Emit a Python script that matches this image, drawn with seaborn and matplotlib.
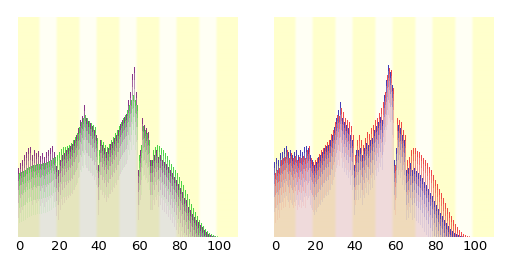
import numpy as np
import pandas as pd
import matplotlib
matplotlib.use("Agg")
import matplotlib.pyplot as plt
import seaborn as sns

# ---- data (relative population per single-year age) ----
ages = list(range(0, 101))
local_tops = [168,163,160,155,152,148,147,155,150,153,151,156,153,157,152,150,148,146,152,166,
              170,160,155,153,150,148,146,144,140,135,128,120,116,105,118,121,123,126,130,135,
              165,140,145,148,152,148,144,142,138,135,130,124,120,117,114,100,92,74,67,92,
              170,150,118,125,128,132,160,160,155,150,157,155,160,162,164,167,170,173,177,180,
              184,188,192,198,200,207,210,214,217,220,222,225,227,230,232,234,235,236,236.5,237,237]
national_tops = [173,172,171,170,168,167,166,165,165,164,164,164,163,163,162,161,160,158,157,155,
                 152,149,147,147,146,145,143,140,137,133,127,122,118,115,118,121,123,125,127,138,
                 150,140,142,145,147,144,140,137,133,130,126,122,118,115,110,105,100,95,100,105,
                 155,145,126,130,133,140,160,150,147,145,146,148,150,153,156,160,164,167,170,173,
                 177,181,185,190,194,199,204,208,212,216,220,223,226,229,231,233,234,235,236,236.5,237]
male_tops = [162,158,160,153,152,148,146,152,150,155,152,150,155,150,152,147,146,148,155,160,
             165,162,157,155,152,148,146,145,140,135,127,118,110,102,118,122,125,128,135,140,
             165,150,150,148,155,148,143,145,140,138,130,126,122,117,120,95,80,65,72,85,
             160,148,125,128,135,140,170,168,163,170,168,171,173,175,178,182,185,189,193,196,
             201,205,209,213,216,220,223,226,229,231,233,234,235,236,236.5,237,237,237,237,237,237]
female_tops = [173,170,168,160,158,157,150,158,153,158,156,160,157,158,156,158,150,146,158,162,
               160,158,154,150,148,145,142,140,134,130,122,115,116,108,112,118,120,122,126,135,
               155,140,135,140,145,138,132,134,128,125,120,118,113,108,102,92,75,68,70,88,
               165,118,120,122,130,135,160,157,150,148,148,151,152,155,158,160,163,167,170,175,
               180,184,189,193,198,203,208,212,216,220,224,227,230,232,234,235,236,236.5,237,237,237]

BASE = 237
local = [BASE - v for v in local_tops]
national = [BASE - v for v in national_tops]
male = [BASE - v for v in male_tops]
female = [BASE - v for v in female_tops]
tick_vals = [0, 20, 40, 60, 80, 100]

W, H = 512, 256
fig = plt.figure(figsize=(W / 100, H / 100), dpi=100)
sns.set_style("white")


def background(ax):
    xs = np.linspace(-0.5, 109.5, 1100)
    yellow = np.array([1.0, 1.0, 0.80])
    white = np.array([1.0, 1.0, 0.96])
    img = np.zeros((1, len(xs), 3))
    for i, x in enumerate(xs):
        d = int(np.floor((x + 0.5) / 10))
        frac = (x + 0.5) / 10 - d
        if d % 2 == 0:
            img[0, i] = yellow
        else:
            t = 1 - abs(frac - 0.5) * 2
            t = min(1, t * 3.5)
            img[0, i] = yellow + (white - yellow) * t
    ax.imshow(img, extent=[-0.5, 109.5, 0, 220], aspect="auto", zorder=0,
              interpolation="bilinear")


def panel(ax, s1, s2, n1, n2, c1, c2, fill, falpha):
    background(ax)
    df = pd.DataFrame({
        "age": ages * 2,
        "value": list(s1) + list(s2),
        "series": [n1] * len(ages) + [n2] * len(ages),
    })
    sns.barplot(data=df, x="age", y="value", hue="series", native_scale=True,
                dodge=True, width=1.0, palette={n1: fill, n2: fill},
                alpha=falpha, linewidth=0, errorbar=None, legend=False, ax=ax,
                zorder=2, snap=False)
    # gradient caps
    for vals, col, off in ((s1, c1, -0.25), (s2, c2, 0.25)):
        v = np.array(vals, dtype=float)
        x = np.array(ages) + off
        for depth, a in ((50, 0.08), (35, 0.14), (22, 0.22), (13, 0.3), (6, 0.45)):
            d = np.minimum(depth, v)
            ax.bar(x, d, bottom=v - d, width=0.5, color=col, alpha=a,
                   linewidth=0, zorder=3, snap=False)
    ax.set_xlim(-0.5, 109.5)
    ax.set_ylim(0, 220)
    ax.set_xticks(tick_vals)
    ax.set_xticklabels([str(t) for t in tick_vals], fontsize=9.5)
    ax.tick_params(axis="x", length=0, pad=2, colors="black")
    ax.set_yticks([])
    ax.set_xlabel("")
    ax.set_ylabel("")
    for sp in ax.spines.values():
        sp.set_visible(False)


ax1 = fig.add_axes([18 / W, (H - 237) / H, 220 / W, 220 / H])
ax2 = fig.add_axes([274 / W, (H - 237) / H, 220 / W, 220 / H])
panel(ax1, local, national, "local", "national", "#700070", "#20d020", "#8c8c8c", 0.22)
panel(ax2, male, female, "male", "female", "#1010b0", "#f02020", "#c03878", 0.2)

fig.savefig("out.png", dpi=100)
